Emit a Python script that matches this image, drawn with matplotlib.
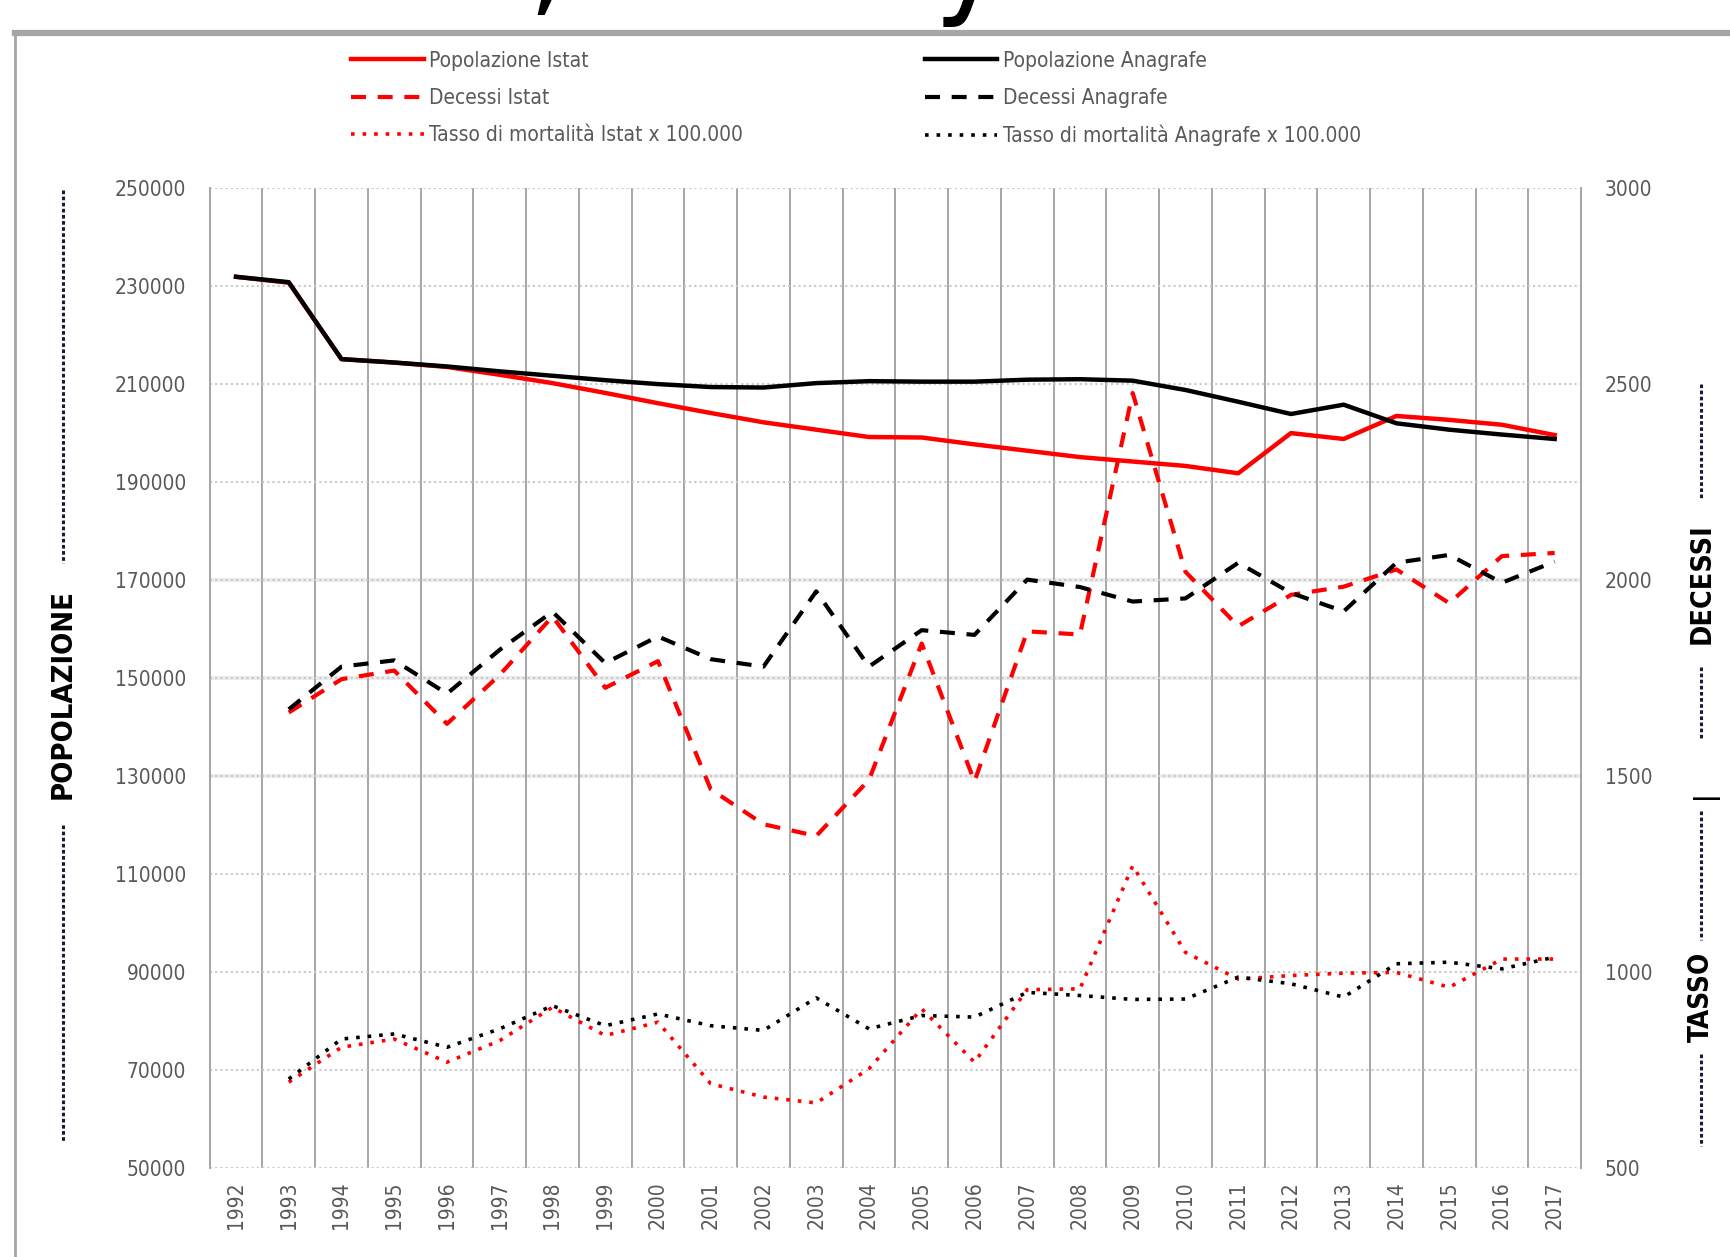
import numpy as np
import matplotlib.pyplot as plt
from matplotlib.lines import Line2D

plt.rcParams['font.family'] = ['Liberation Sans Narrow', 'DejaVu Sans']
plt.rcParams['font.stretch'] = 'condensed'

# dati
anni = [str(a) for a in range(1992, 2018)]

pop_istat = [231800, 230600, 215000, 214300, 213400, 211800, 210100, 208100, 206000,
             204000, 202100, 200600, 199100, 199000, 197600, 196300, 195000, 194100,
             193200, 191700, 199900, 198700, 203400, 202600, 201600, 199500]
pop_anagrafe = [231800, 230700, 215000, 214300, 213500, 212500, 211600, 210700, 209900,
                209300, 209200, 210100, 210500, 210400, 210400, 210800, 210900, 210600,
                208700, 206300, 203800, 205700, 201900, 200600, 199600, 198700]

dec_istat = [np.nan, 1661, 1746, 1768, 1632, 1757, 1906, 1724, 1792, 1465, 1376, 1346,
             1489, 1837, 1485, 1868, 1860, 2476, 2020, 1881, 1961, 1982, 2026, 1940,
             2060, 2068]
dec_anagrafe = [np.nan, 1669, 1778, 1794, 1709, 1821, 1918, 1787, 1855, 1797, 1778, 1970,
                1778, 1871, 1859, 2000, 1981, 1944, 1952, 2043, 1966, 1919, 2043, 2063,
                1992, 2046]

tasso_istat = [np.nan, 718, 807, 828, 769, 824, 909, 837, 871, 714, 680, 665, 752, 905,
               769, 954, 956, 1270, 1049, 981, 990, 996, 998, 960, 1032, 1032]
tasso_anagrafe = [np.nan, 726, 828, 841, 807, 854, 913, 862, 892, 862, 850, 933, 854, 888,
                  884, 947, 939, 929, 930, 986, 969, 935, 1020, 1024, 1007, 1037]

GRIGIO = '#595959'
W, H = 1568, 1139  # misure del riferimento usate per le posizioni


def fx(x):
    return x / W


def fy(y):
    return 1 - y / H


fig = plt.figure(figsize=(17.30, 12.57), dpi=100)
ax = fig.add_axes([fx(190), fy(1058), fx(1433) - fx(190), fy(170) - fy(1058)])
ax2 = ax.twinx()

x = np.arange(len(anni))

# popolazione (asse sinistro)
ax.plot(x, pop_istat, color='red', lw=3.2, zorder=4)
ax.plot(x, pop_anagrafe, color='black', lw=3.2, zorder=5)

# decessi e tasso (asse destro)
ax2.plot(x, dec_istat, color='red', lw=3, ls=(0, (3.6, 2.8)))
ax2.plot(x, dec_anagrafe, color='black', lw=3, ls=(0, (3.6, 2.8)))
ax2.plot(x, tasso_istat, color='red', lw=2.6, ls=(0, (1, 2.2)))
ax2.plot(x, tasso_anagrafe, color='black', lw=2.6, ls=(0, (1, 2.2)))

ax.set_xlim(-0.5, len(anni) - 0.5)
ax.set_ylim(50000, 250000)
ax2.set_ylim(500, 3000)

ax.set_xticks(x)
ax.set_xticklabels(anni, rotation=90, color=GRIGIO, fontsize=15)
ax.set_xticks(np.arange(-0.5, len(anni), 1), minor=True)
ax.set_yticks(np.arange(50000, 250001, 20000))
ax.set_yticklabels([str(v) for v in range(50000, 250001, 20000)], color=GRIGIO, fontsize=15)
ax2.set_yticks(np.arange(500, 3001, 500))
ax2.set_yticklabels([str(v) for v in range(500, 3001, 500)], color=GRIGIO, fontsize=15)

ax.tick_params(axis='both', which='both', length=0)
ax.tick_params(axis='y', pad=17)
ax.tick_params(axis='x', pad=10)
ax2.tick_params(axis='y', length=0, pad=17)

# griglia
ax.grid(axis='x', which='minor', color='#a6a6a6', lw=1.4, ls='-')
ax.grid(axis='y', which='major', color='#c8c8c8', lw=1.5, ls=(0, (1, 1.5)))
for v in (130000, 150000, 170000):
    ax.axhline(v, color='#ececec', lw=3, zorder=0)
ax.set_axisbelow(True)

for a in (ax, ax2):
    a.spines['top'].set_visible(False)
    a.spines['bottom'].set_visible(False)
    a.spines['left'].set_color('#a6a6a6')
    a.spines['right'].set_color('#a6a6a6')
    a.spines['left'].set_linewidth(1.4)
    a.spines['right'].set_linewidth(1.4)

# legenda su due colonne
h1 = [Line2D([], [], color='red', lw=3.2),
      Line2D([], [], color='red', lw=3, ls=(0, (3.6, 2.8))),
      Line2D([], [], color='red', lw=2.6, ls=(0, (1, 2.2)))]
h2 = [Line2D([], [], color='black', lw=3.2),
      Line2D([], [], color='black', lw=3, ls=(0, (3.6, 2.8))),
      Line2D([], [], color='black', lw=2.6, ls=(0, (1, 2.2)))]
l1 = ['Popolazione Istat', 'Decessi Istat', 'Tasso di mortalità Istat x 100.000']
l2 = ['Popolazione Anagrafe', 'Decessi Anagrafe', 'Tasso di mortalità Anagrafe x 100.000']
for hh, ll, xl in ((h1, l1, 318), (h2, l2, 838)):
    leg = fig.legend(hh, ll, loc='upper left', bbox_to_anchor=(fx(xl), fy(46)),
                     frameon=False, fontsize=15, handlelength=3.5, handletextpad=0.25,
                     labelspacing=0.82, borderpad=0, borderaxespad=0)
    for t in leg.get_texts():
        t.set_color(GRIGIO)

# etichette degli assi con tratteggio
tratto = dict(color='#1a1a3a', lw=2.2, ls=(0, (1.2, 0.8)))
fig.add_artist(Line2D([fx(57), fx(57)], [fy(172), fy(510)], **tratto))
fig.add_artist(Line2D([fx(57), fx(57)], [fy(748), fy(1035)], **tratto))
fig.text(fx(57), fy(629), 'POPOLAZIONE', rotation=90, ha='center', va='center',
         fontsize=21, fontweight='bold', color='black')

xr = fx(1542)
fig.add_artist(Line2D([xr, xr], [fy(348), fy(452)], **tratto))
fig.add_artist(Line2D([xr, xr], [fy(604), fy(669)], **tratto))
fig.text(xr, fy(529), 'DECESSI', rotation=90, ha='center', va='center',
         fontsize=20.5, fontweight='bold', color='black')
fig.text(fx(1545), fy(720), '|', rotation=90, ha='center', va='center',
         fontsize=19, fontweight='bold', color='black')
fig.add_artist(Line2D([xr, xr], [fy(735), fy(852)], **tratto))
fig.add_artist(Line2D([xr, xr], [fy(955), fy(1038)], **tratto))
fig.text(xr, fy(903), 'TASSO', rotation=90, ha='center', va='center',
         fontsize=20, fontweight='bold', color='black')

# bordo dell'area del grafico
fig.add_artist(Line2D([fx(14), 1.0], [fy(30), fy(30)], color='#a6a6a6', lw=4.5))
fig.add_artist(Line2D([fx(14), fx(14)], [fy(30), 0.0], color='#a6a6a6', lw=2))

# resti del titolo tagliato in alto
fig.text(fx(495), 1.0, ',', fontsize=90, ha='center', va='baseline')
fig.text(fx(878), 1.0, 'y', fontsize=95, ha='center', va='baseline')

fig.savefig('out.png', dpi=100, facecolor='white')
